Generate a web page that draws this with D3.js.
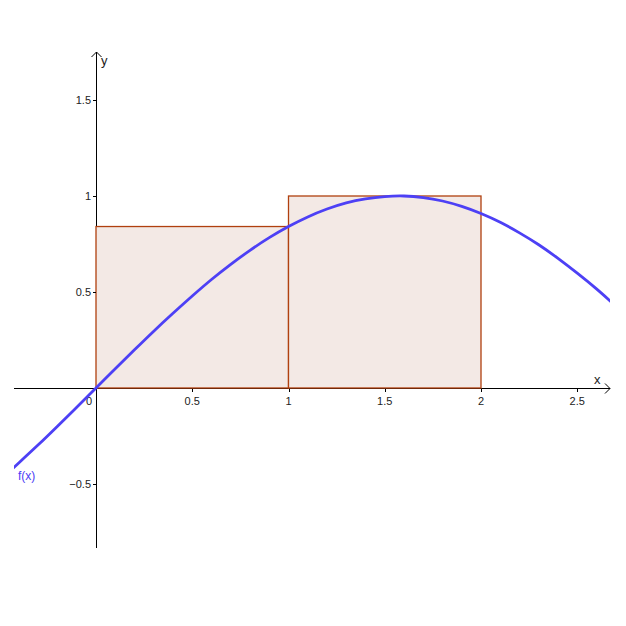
<!DOCTYPE html>
<html><head><meta charset="utf-8">
<script src="https://cdn.jsdelivr.net/npm/d3@7"></script>
<style>body{margin:0;background:#fff}svg{display:block}text{font-family:"Liberation Sans",Arial,sans-serif}</style>
</head><body><div id="c"></div>
<script>
// Function f(x) samples
const curveX = [-0.45,-0.4,-0.3,-0.2,-0.1,0,0.1,0.2,0.3,0.4,0.5,0.6,0.7,0.8,0.9,1.0,1.1,1.2,1.3,1.4,1.5,1.6,1.7,1.8,1.9,2.0,2.1,2.2,2.3,2.4,2.5,2.6,2.7];
const curveY = [-0.435,-0.389,-0.296,-0.199,-0.1,0,0.1,0.199,0.296,0.389,0.479,0.565,0.644,0.717,0.783,0.841,0.891,0.932,0.964,0.985,0.997,1.0,0.992,0.974,0.946,0.909,0.863,0.808,0.746,0.675,0.598,0.516,0.427];
// Rectangles (upper sum)
const rectStart = [0, 1];
const rectEnd = [1, 2];
const rectHeight = [0.841, 1.0];
const xTicks = [0.5, 1, 1.5, 2, 2.5];
const xTickLabels = ["0.5","1","1.5","2","2.5"];
const yTicks = [-0.5, 0.5, 1, 1.5];
const yTickLabels = ["\u22120.5","0.5","1","1.5"];

const W = 626, H = 626;
const svg = d3.select("#c").append("svg").attr("width", W).attr("height", H);
const x = d3.scaleLinear().domain([0, 1]).range([96, 288.5]);
const y = d3.scaleLinear().domain([0, 1]).range([388, 196]);
const xMin = x.invert(14), xMax = x.invert(610);
const yMin = y.invert(548), yMax = y.invert(52);

// axes
const ax = svg.append("g").attr("stroke", "#000").attr("stroke-width", 1);
ax.append("line").attr("x1", x(xMin)).attr("x2", x(xMax)).attr("y1", y(0)+0.5).attr("y2", y(0)+0.5);
ax.append("path").attr("d", `M${x(xMax)-5},${y(0)-4.5} L${x(xMax)},${y(0)+0.5} L${x(xMax)-5},${y(0)+5.5}`).attr("fill","none");
ax.append("line").attr("x1", x(0)+0.5).attr("x2", x(0)+0.5).attr("y1", y(yMin)).attr("y2", y(yMax));
ax.append("path").attr("d", `M${x(0)-4.5},${y(yMax)+5} L${x(0)+0.5},${y(yMax)} L${x(0)+5.5},${y(yMax)+5}`).attr("fill","none");

// rectangles
svg.append("g").selectAll("rect").data(rectStart).join("rect")
  .attr("x", (d,i) => x(d)).attr("y", (d,i) => y(rectHeight[i]))
  .attr("width", (d,i) => x(rectEnd[i]) - x(d))
  .attr("height", (d,i) => y(0) - y(rectHeight[i]))
  .attr("fill", "#f3e9e5").attr("stroke", "#b0400f").attr("stroke-width", 1.3);

// x ticks
svg.append("g").selectAll("line").data(xTicks).join("line")
  .attr("x1", d => Math.round(x(d))+0.5).attr("x2", d => Math.round(x(d))+0.5)
  .attr("y1", y(0)+1).attr("y2", y(0)+4).attr("stroke", "#000");
svg.append("g").selectAll("text").data(xTicks).join("text")
  .attr("x", d => x(d)).attr("y", y(0)+17).attr("text-anchor", "middle")
  .attr("font-size", 11).attr("fill", "#222").text((d,i) => xTickLabels[i]);
svg.append("text").attr("x", x(0)-7).attr("y", y(0)+17).attr("text-anchor","middle")
  .attr("font-size", 11).attr("fill", "#222").text("0");

// y ticks
svg.append("g").selectAll("line").data(yTicks).join("line")
  .attr("y1", d => Math.round(y(d))+0.5).attr("y2", d => Math.round(y(d))+0.5)
  .attr("x1", x(0)-3).attr("x2", x(0)).attr("stroke", "#000");
svg.append("g").selectAll("text").data(yTicks).join("text")
  .attr("x", x(0)-5).attr("y", d => y(d)+4).attr("text-anchor", "end")
  .attr("font-size", 11).attr("fill", "#222").text((d,i) => yTickLabels[i]);

// axis labels
svg.append("text").attr("x", x(xMax)-16).attr("y", y(0)-4).attr("font-size", 13).attr("fill","#222").text("x");
svg.append("text").attr("x", x(0)+5).attr("y", y(yMax)+13).attr("font-size", 13).attr("fill","#222").text("y");

// curve
svg.append("clipPath").attr("id","clip").append("rect")
  .attr("x", x(xMin)).attr("y", 0).attr("width", x(xMax)-x(xMin)).attr("height", H);
const pts = curveX.map((d,i) => [d, curveY[i]]);
svg.append("path").datum(pts).attr("clip-path","url(#clip)")
  .attr("d", d3.line().x(d => x(d[0])).y(d => y(d[1])).curve(d3.curveNatural))
  .attr("fill","none").attr("stroke","#4d40f5").attr("stroke-width", 2.8);
svg.append("text").attr("x", 18).attr("y", 480).attr("font-size", 12).attr("fill","#4d40f5").text("f(x)");
</script></body></html>
